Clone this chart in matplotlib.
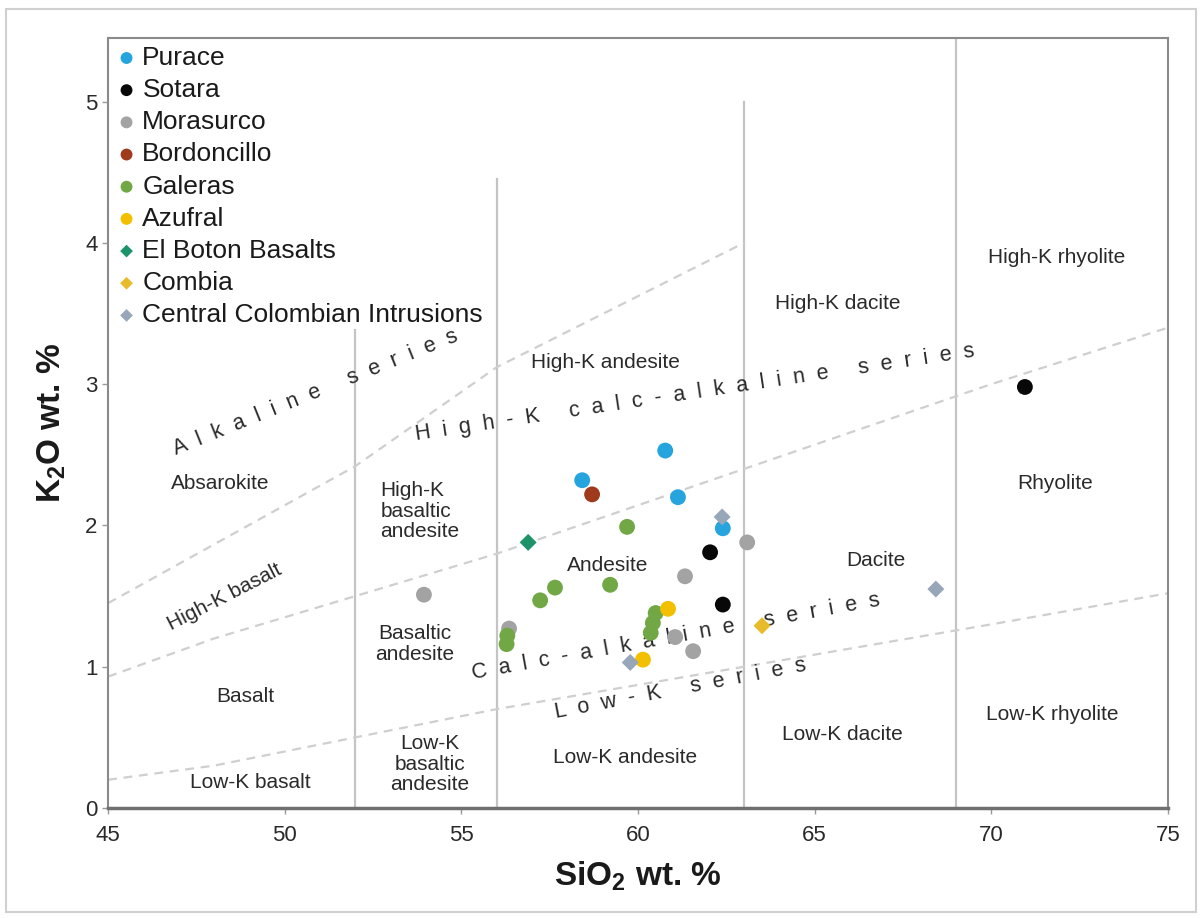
import matplotlib
matplotlib.use("Agg")
import matplotlib.pyplot as plt
from matplotlib.patches import Rectangle

plt.rcParams['font.family'] = ['Liberation Sans', 'DejaVu Sans']
plt.rcParams['mathtext.fontset'] = 'custom'
plt.rcParams['mathtext.rm'] = 'Liberation Sans'
plt.rcParams['mathtext.bf'] = 'Liberation Sans:bold'

# ---- sample data (SiO2 wt.%, K2O wt.%) ----
purace_si = [60.77, 58.42, 61.13, 62.40]
purace_k = [2.53, 2.32, 2.20, 1.98]
sotara_si = [70.95, 62.04, 62.40]
sotara_k = [2.98, 1.81, 1.44]
morasurco_si = [63.09, 61.33, 61.56, 53.94, 61.05, 56.35]
morasurco_k = [1.88, 1.64, 1.11, 1.51, 1.21, 1.27]
bordoncillo_si = [58.70]
bordoncillo_k = [2.22]
galeras_si = [59.69, 59.21, 57.65, 57.23, 56.30, 56.28, 60.50, 60.42, 60.36]
galeras_k = [1.99, 1.58, 1.56, 1.47, 1.22, 1.16, 1.38, 1.31, 1.24]
azufral_si = [60.85, 60.14]
azufral_k = [1.41, 1.05]
elboton_si = [56.89]
elboton_k = [1.88]
combia_si = [63.51]
combia_k = [1.29]
cci_si = [68.43, 62.38, 59.78]
cci_k = [1.55, 2.06, 1.03]

series_names = ['Purace', 'Sotara', 'Morasurco', 'Bordoncillo', 'Galeras',
                'Azufral', 'El Boton Basalts', 'Combia',
                'Central Colombian Intrusions']

# ---- classification boundaries (Peccerillo & Taylor style) ----
lowk_si = [45, 48, 52, 56, 63, 70, 75]
lowk_k = [0.20, 0.30, 0.50, 0.70, 1.00, 1.30, 1.52]
hik_si = [45, 48, 52, 56, 63, 70, 75]
hik_k = [0.93, 1.20, 1.50, 1.80, 2.40, 3.00, 3.40]
shos_si = [45, 52, 56, 63]
shos_k = [1.45, 2.42, 3.12, 4.00]
vert_si = [52, 56, 63, 69]
vert_top = [3.38, 4.45, 5.00, 5.45]

fig = plt.figure(figsize=(12.02, 9.18), dpi=100)
fig.patches.append(Rectangle((0.005, 0.007), 0.99, 0.983, transform=fig.transFigure,
                             fill=False, edgecolor='#d0d0d0', linewidth=1.5))
ax = fig.add_axes([0.0899, 0.1198, 0.8818, 0.8388])

ax.set_xlim(45, 75)
ax.set_ylim(0, 5.45)

grid_grey = '#c4c4c4'
for xs, top in zip(vert_si, vert_top):
    ax.plot([xs, xs], [0, top], color=grid_grey, lw=1.6, zorder=1)
for xs, ys in [(lowk_si, lowk_k), (hik_si, hik_k), (shos_si, shos_k)]:
    ax.plot(xs, ys, color='#cfcfcf', lw=1.6, ls=(0, (4, 3)), zorder=1)

# ---- field names ----
lab_kw = dict(fontsize=15, color='#2a2a2a', ha='center', va='center', zorder=2)
fields = [
    ('Absarokite', 48.17, 2.30, 'center'),
    ('Basalt', 48.88, 0.79, 'center'),
    ('Low-K basalt', 49.02, 0.18, 'center'),
    ('High-K\nbasaltic\nandesite', 53.83, 2.10, 'left'),
    ('Basaltic\nandesite', 53.69, 1.16, 'center'),
    ('Low-K\nbasaltic\nandesite', 54.11, 0.31, 'center'),
    ('High-K andesite', 59.07, 3.15, 'center'),
    ('Andesite', 59.15, 1.72, 'center'),
    ('Low-K andesite', 59.63, 0.36, 'center'),
    ('High-K dacite', 65.66, 3.57, 'center'),
    ('Dacite', 66.74, 1.75, 'center'),
    ('Low-K dacite', 65.78, 0.52, 'center'),
    ('High-K rhyolite', 71.86, 3.90, 'center'),
    ('Rhyolite', 71.80, 2.30, 'center'),
    ('Low-K rhyolite', 71.72, 0.66, 'center'),
]
for txt, xx, yy, al in fields:
    ax.text(xx, yy, txt, multialignment=al, linespacing=1.1, **lab_kw)
ax.text(48.31, 1.49, 'High-K basalt', rotation=27, **lab_kw)


def spaced(s):
    return '     '.join('  '.join(w) for w in s.split(' '))


ser_kw = dict(fontsize=15.5, color='#2a2a2a', ha='center', va='center', zorder=2)
ax.text(50.86, 2.94, spaced('Alkaline series'), rotation=22, **ser_kw)
ax.text(61.6, 2.94, spaced('High-K calc-alkaline series'), rotation=8.5, **ser_kw)
ax.text(61.08, 1.21, spaced('Calc-alkaline series'), rotation=10.2, **ser_kw)
ax.text(61.19, 0.84, spaced('Low-K series'), rotation=10.7, **ser_kw)

# ---- samples ----
data = [
    (purace_si, purace_k, '#25a4de', 'o', 130),
    (sotara_si, sotara_k, '#080808', 'o', 130),
    (morasurco_si, morasurco_k, '#a3a3a3', 'o', 130),
    (bordoncillo_si, bordoncillo_k, '#a03a1c', 'o', 130),
    (galeras_si, galeras_k, '#71a845', 'o', 130),
    (azufral_si, azufral_k, '#f2c000', 'o', 130),
    (elboton_si, elboton_k, '#1d936a', 'D', 75),
    (combia_si, combia_k, '#e8bb2a', 'D', 75),
    (cci_si, cci_k, '#98a6ba', 'D', 75),
]
for (xs, ys, c, m, s), name in zip(data, series_names):
    ax.scatter(xs, ys, s=s, c=c, marker=m, edgecolors='none', label=name, zorder=3)

leg = ax.legend(loc='upper left', bbox_to_anchor=(0.0, 1.0), frameon=False,
                fontsize=19, handlelength=0.8, handletextpad=0.2,
                labelspacing=0.31, borderaxespad=0.0, borderpad=0.3,
                markerscale=0.75, scatterpoints=1)
for t in leg.get_texts():
    t.set_color('#1a1a1a')

# ---- axes styling ----
ax.set_xticks([45, 50, 55, 60, 65, 70, 75])
ax.set_yticks([0, 1, 2, 3, 4, 5])
ax.tick_params(axis='both', labelsize=16, colors='#9a9a9a', labelcolor='#2a2a2a',
               length=4, width=1)
ax.tick_params(axis='x', pad=8)
for side in ['left', 'right', 'top']:
    ax.spines[side].set_color('#8a8a8a')
    ax.spines[side].set_linewidth(1.5)
ax.spines['bottom'].set_color('#6f6f6f')
ax.spines['bottom'].set_linewidth(2.5)

ax.set_xlabel(r'SiO$_\mathbf{2}$ wt. %', fontsize=24, fontweight='bold', labelpad=10,
              color='#1a1a1a')
ax.set_ylabel(r'K$_\mathbf{2}$O wt. %', fontsize=24, fontweight='bold', labelpad=12,
              color='#1a1a1a')

fig.savefig('out.png', dpi=100)
